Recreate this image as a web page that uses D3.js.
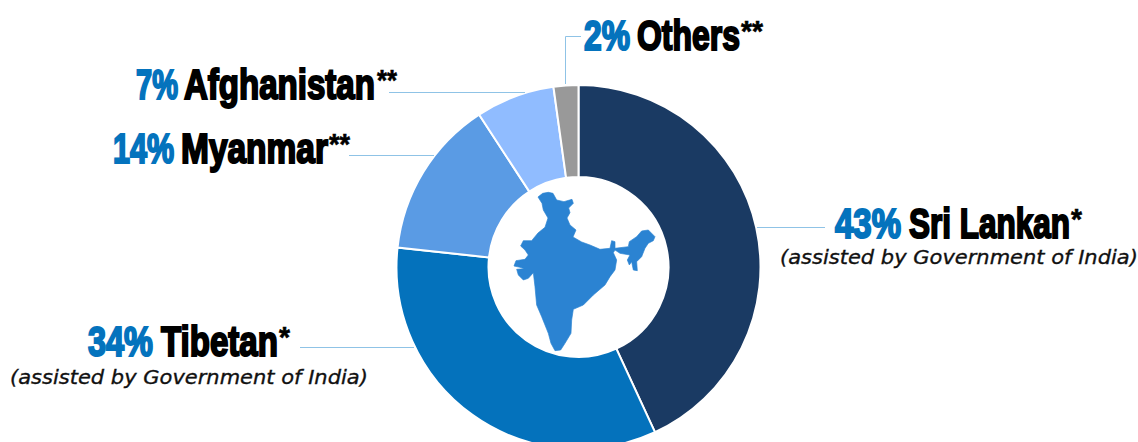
<!DOCTYPE html>
<html>
<head>
<meta charset="utf-8">
<script src="https://cdn.jsdelivr.net/npm/d3@7"></script>
<style>
body { margin: 0; background: #fff; overflow: hidden; }
svg { display: block; }
</style>
</head>
<body>
<div id="chart"></div>
<script>
// data, clockwise from 12 o'clock
var categories = ["Sri Lankan", "Tibetan", "Myanmar", "Afghanistan", "Others"];
var shares = [43.1, 33.6, 14.1, 7, 2.2];  // slices are drawn a bit off the printed labels
var pctLabels = ["43%", "34%", "14%", "7%", "2%"];
var marks = ["*", "*", "**", "**", "**"];
var colors = ["#1a3a63", "#0472bc", "#5a9be4", "#90bcff", "#999999"];
var note = "(assisted by Government of India)";

// where each label sits: pct x/width, name x/width, mark x/width, baseline
var labelPos = [
	[835, 66, 909, 161, 1071, 11, 238],
	[88, 65, 161, 117, 279, 11, 356],
	[113, 61, 181, 147, 329, 21, 163],
	[136, 42, 184, 191, 377, 20, 99],
	[584, 46, 637, 103, 741, 22, 50]
];
var notePos = [[780, 264], [10, 384]];
// leader lines
var leaders = [
	[[757, 227.5], [825, 227.5]],
	[[300, 347.5], [414, 347.5]],
	[[349, 155.5], [434, 155.5]],
	[[389, 92.5], [525, 92.5]],
	[[581, 36.5], [565.5, 36.5], [565.5, 84]]
];

// India silhouette, traced in icon units
var indiaOutline = [
	[144,81],[158,70],[175,67],[189,70],[200,90],[222,95],[246,88],[250,100],[236,114],[240,128],[231,144],
	[240,165],[258,180],[249,201],[275,216],[300,225],[330,238],[360,235],[365,212],[375,215],[375,235],
	[415,230],[418,215],[440,200],[455,183],[475,180],[495,200],[490,212],[475,220],[465,235],[455,260],
	[440,275],[442,302],[430,300],[425,275],[418,285],[412,270],[420,255],[390,250],[375,240],[370,248],
	[380,270],[375,300],[360,320],[345,345],[310,375],[280,405],[250,418],[245,450],[243,490],[225,520],
	[212,540],[195,542],[183,520],[175,490],[155,440],[140,405],[135,350],[130,308],[115,325],[100,330],
	[85,315],[80,298],[103,296],[90,292],[72,288],[78,272],[105,268],[115,255],[105,240],[92,228],[100,212],
	[125,212],[144,189],[165,172],[174,144],[160,120],[156,100]
];

var width = 1138, height = 442;
var cx = 578.5, cy = 267, outer = 182, inner = 90;

var svg = d3.select("#chart").append("svg")
	.attr("width", width)
	.attr("height", height);

var pie = d3.pie().sort(null);
var arc = d3.arc().innerRadius(inner).outerRadius(outer);

svg.append("g")
	.attr("transform", "translate(" + cx + "," + cy + ")")
	.selectAll("path")
	.data(pie(shares))
	.enter()
	.append("path")
		.attr("d", arc)
		.attr("fill", function (d, i) { return colors[i]; })
		.attr("stroke", "#fff")
		.attr("stroke-width", 2);

// map in the hole
var line = d3.line().curve(d3.curveLinearClosed);
svg.append("path")
	.attr("d", line(indiaOutline))
	.attr("transform", "translate(490,170) scale(0.3333)")
	.attr("fill", "#2b83d2")
	.attr("stroke", "#2b83d2")
	.attr("stroke-width", 2)
	.attr("stroke-linejoin", "round");

svg.selectAll(".leader")
	.data(leaders)
	.enter()
	.append("path")
		.attr("class", "leader")
		.attr("d", d3.line())
		.attr("fill", "none")
		.attr("stroke", "#8fc3e6")
		.attr("stroke-width", 1);

// squeeze a text to the width it has in the reference
function fitted(txt, x, w, y) {
	var t = svg.append("text").text(txt);
	t.attr("data-w", w).attr("data-x", x).attr("data-y", y);
	return t;
}
function squeeze(t) {
	var w = +t.attr("data-w");
	var k = w / t.node().getComputedTextLength();
	t.attr("transform", "translate(" + t.attr("data-x") + "," + t.attr("data-y") + ") scale(" + k + ",1)");
}

function heavy(txt, x, w, y, color, size, sw) {
	var t = fitted(txt, x, w, y)
		.attr("font-family", "'Liberation Sans Narrow', 'Liberation Sans', sans-serif")
		.attr("font-weight", "700")
		.attr("font-size", size + "px")
		.attr("fill", color)
		.attr("stroke", color)
		.attr("stroke-width", sw);
	squeeze(t);
}

for (var i = 0; i < categories.length; i++) {
	var p = labelPos[i];
	heavy(pctLabels[i], p[0], p[1], p[6] - 0.5, "#0473bd", 42, 2.1);
	heavy(categories[i], p[2], p[3], p[6] - 0.5, "#000", 42, 2.1);
	heavy(marks[i], p[4], p[5], p[6] - 9, "#000", 29, 0.6);
}

notePos.forEach(function (n) {
	var t = fitted(note, n[0], 358, n[1])
		.attr("font-family", "'DejaVu Sans', sans-serif")
		.attr("font-style", "italic")
		.attr("font-size", "20px")
		.attr("fill", "#111")
		.attr("stroke", "#111")
		.attr("stroke-width", 0.35);
	squeeze(t);
});
</script>
</body>
</html>
